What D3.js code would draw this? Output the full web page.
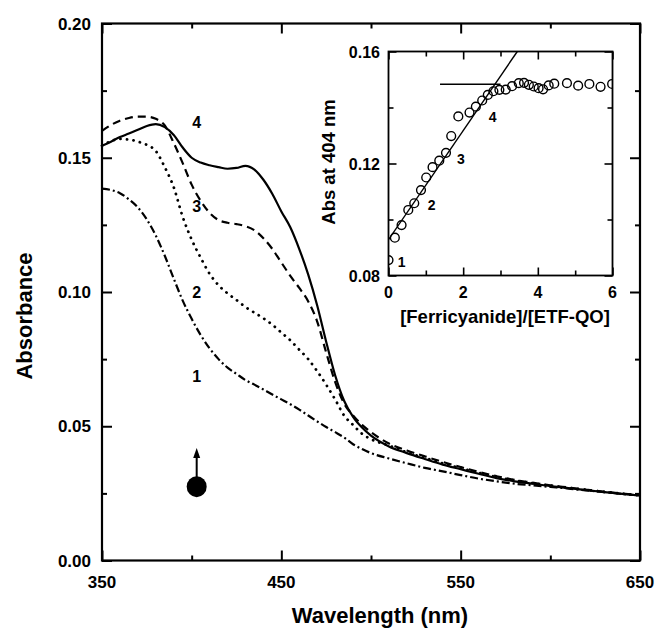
<!DOCTYPE html>
<html>
<head>
<meta charset="utf-8">
<script src="https://cdn.jsdelivr.net/npm/d3@7"></script>
<style>
  body { margin: 0; background: white; }
  svg text { font-family: "Liberation Sans", Arial, sans-serif; font-weight: bold; fill: black; }
</style>
</head>
<body>
<div id="canvas"></div>
<script>
var width = 655;
var height = 629;

// main spectra, absorbance vs wavelength
const wavelengths = [350,355,360,365,370,375,380,385,390,395,400,405,410,415,420,425,430,435,440,445,
                     450,455,460,465,470,475,480,485,490,495,500,510,520,530,540,550,560,570,580,590,
                     600,610,620,630,640,650];
const curve1 = [0.1385,0.1380,0.1368,0.1345,0.1315,0.1270,0.1210,0.1135,0.1050,0.0968,0.0900,0.0840,0.0790,0.0750,0.0718,0.0695,0.0672,0.0655,0.0637,0.0618,
                0.0600,0.0582,0.0562,0.0540,0.0518,0.0497,0.0478,0.0458,0.0433,0.0415,0.0400,0.0380,0.0362,0.0345,0.0332,0.0318,0.0305,0.0295,0.0286,0.0280,
                0.0274,0.0268,0.0261,0.0255,0.0248,0.0242];
const curve2 = [0.1545,0.1562,0.1570,0.1568,0.1560,0.1548,0.1525,0.1465,0.1390,0.1280,0.1195,0.1128,0.1068,0.1025,0.0995,0.0970,0.0944,0.0923,0.0902,0.0878,
                0.0849,0.0820,0.0785,0.0750,0.0705,0.0655,0.0600,0.0540,0.0505,0.0472,0.0452,0.0428,0.0403,0.0382,0.0362,0.0344,0.0327,0.0311,0.0298,0.0288,
                0.0279,0.0271,0.0263,0.0256,0.0249,0.0243];
const curve3 = [0.1600,0.1622,0.1638,0.1648,0.1653,0.1653,0.1645,0.1620,0.1555,0.1480,0.1400,0.1340,0.1295,0.1268,0.1258,0.1253,0.1245,0.1230,0.1200,0.1160,
                0.1110,0.1060,0.1015,0.0965,0.0890,0.0775,0.0665,0.0585,0.0540,0.0505,0.0478,0.0436,0.0410,0.0388,0.0367,0.0348,0.0330,0.0314,0.0300,0.0290,
                0.0280,0.0272,0.0264,0.0256,0.0249,0.0243];
const curve4 = [0.1545,0.1560,0.1577,0.1590,0.1604,0.1618,0.1625,0.1614,0.1585,0.1538,0.1500,0.1482,0.1472,0.1465,0.1459,0.1462,0.1470,0.1456,0.1418,0.1365,
                0.1300,0.1241,0.1160,0.1065,0.0950,0.0815,0.0690,0.0595,0.0535,0.0495,0.0465,0.0425,0.0400,0.0378,0.0357,0.0340,0.0323,0.0307,0.0295,0.0286,
                0.0277,0.0270,0.0262,0.0255,0.0248,0.0242];
const curveNames = ["1","2","3","4"];
const labelWavelength = 402.8;
const labelAbs = [0.0685,0.1000,0.1319,0.1632];

// arrow + dot at 404 nm
const arrowWavelength = 402.8;
const arrowFrom = 0.0315, arrowTo = 0.0419, dotAbs = 0.0275;

// main ticks
const xMajor = [350,450,550,650];
const xMinor = [400,500,600];
const yMajor = [0,0.05,0.10,0.15,0.20];
const yMinor = [0.025,0.075,0.125,0.175];

// inset titration
const ratios = [0.00,0.17,0.35,0.53,0.69,0.87,1.01,1.18,1.36,1.54,1.68,1.87,2.17,2.34,2.51,2.66,2.81,2.97,3.14,3.31,
                3.49,3.63,3.76,3.89,4.02,4.14,4.29,4.44,4.78,5.08,5.38,5.68,5.99];
const abs404 = [0.0855,0.0935,0.0980,0.1034,0.1058,0.1105,0.1150,0.1187,0.1210,0.1238,0.1298,0.1368,0.1382,0.1403,0.1425,0.1445,0.1458,0.1463,0.1464,0.1476,
                0.1487,0.1488,0.1481,0.1475,0.1469,0.1465,0.1479,0.1485,0.1487,0.1478,0.1484,0.1474,0.1484];
const fitX = [0, 3.45], fitY = [0.0928, 0.16];
const plateauX = [1.38, 3.0], plateauY = [0.1483, 0.1483];
const insetLabelX = [0.354,1.157,1.942,2.79];
const insetLabelY = [0.0849,0.1052,0.1215,0.1367];
const insetXMajor = [0,2,4,6], insetXMinor = [1,3,5];
const insetYMajor = [0.08,0.12,0.16], insetYMinor = [0.10,0.14];

var svg = d3.select("#canvas").append("svg")
    .attr("width", width)
    .attr("height", height)
    .style("background-color", "white");

const x = d3.scaleLinear().domain([350,650]).range([102,640]);
const y = d3.scaleLinear().domain([0,0.20]).range([560.5,23.5]);

// ticks on all four sides, pointing inward
function frameTicks(g, xs, ys, major, minor, xMaj, xMin, yMaj, yMin, lw) {
    const [x0,x1] = xs.range(), [y0,y1] = ys.range();
    const tick = (sel, vals, len, axisFn, pos) => {
        sel.append("g").attr("transform", pos)
            .call(axisFn.tickValues(vals).tickSize(-len).tickFormat(""))
            .call(a => a.select(".domain").remove())
            .selectAll("line").attr("stroke-width", lw);
    };
    tick(g, xMaj, major, d3.axisBottom(xs), `translate(0,${y0})`);
    tick(g, xMin, minor, d3.axisBottom(xs), `translate(0,${y0})`);
    tick(g, xMaj, major, d3.axisTop(xs), `translate(0,${y1})`);
    tick(g, xMin, minor, d3.axisTop(xs), `translate(0,${y1})`);
    tick(g, yMaj, major, d3.axisLeft(ys), `translate(${x0},0)`);
    tick(g, yMin, minor, d3.axisLeft(ys), `translate(${x0},0)`);
    tick(g, yMaj, major, d3.axisRight(ys), `translate(${x1},0)`);
    tick(g, yMin, minor, d3.axisRight(ys), `translate(${x1},0)`);
}

const main = svg.append("g");
frameTicks(main, x, y, 10, 5, xMajor, xMinor, yMajor, yMinor, 2);
main.append("rect")
    .attr("x", 102).attr("y", 23.5).attr("width", 538).attr("height", 537)
    .attr("fill", "none").attr("stroke", "black").attr("stroke-width", 2.2);

main.selectAll(".xl").data(xMajor).enter().append("text")
    .attr("x", d => x(d)).attr("y", 588)
    .attr("text-anchor", "middle").style("font-size", "17px")
    .text(d => d);
main.selectAll(".yl").data(yMajor).enter().append("text")
    .attr("x", 91).attr("y", d => y(d) + 6)
    .attr("text-anchor", "end").style("font-size", "17px")
    .text(d => d3.format(".2f")(d));

svg.append("text")
    .attr("x", 380).attr("y", 623)
    .attr("text-anchor", "middle").style("font-size", "22px")
    .text("Wavelength (nm)");
svg.append("text")
    .attr("transform", "translate(32,316) rotate(-90)")
    .attr("text-anchor", "middle").style("font-size", "22px")
    .text("Absorbance");

// spectra
const line = d3.line()
    .x((d, i) => x(wavelengths[i]))
    .y(d => y(d))
    .curve(d3.curveMonotoneX);

const styles = [
    { data: curve1, dash: "8 3 2 3", cap: "butt" },
    { data: curve2, dash: "0.1 6.5", cap: "round" },
    { data: curve3, dash: "8 5", cap: "butt" },
    { data: curve4, dash: null, cap: "butt" }
];
styles.forEach(s => {
    main.append("path")
        .datum(s.data)
        .attr("d", line)
        .attr("fill", "none")
        .attr("stroke", "black")
        .attr("stroke-width", s.cap === "round" ? 2.8 : 2.2)
        .attr("stroke-linecap", s.cap)
        .attr("stroke-dasharray", s.dash);
});

main.selectAll(".cl").data(curveNames).enter().append("text")
    .attr("x", x(labelWavelength)).attr("y", (d, i) => y(labelAbs[i]))
    .attr("dy", "0.36em")
    .attr("text-anchor", "middle").style("font-size", "16px")
    .text(d => d);

// arrow with dot
main.append("line")
    .attr("x1", x(arrowWavelength)).attr("x2", x(arrowWavelength))
    .attr("y1", y(dotAbs)).attr("y2", y(arrowTo) + 8)
    .attr("stroke", "black").attr("stroke-width", 2);
main.append("path")
    .attr("d", `M${x(arrowWavelength)},${y(arrowTo)} l-3.5,10 l7,0 z`)
    .attr("fill", "black");
main.append("ellipse")
    .attr("cx", x(arrowWavelength)).attr("cy", y(dotAbs))
    .attr("rx", 10).attr("ry", 10.5)
    .attr("fill", "black");

// inset
const ix = d3.scaleLinear().domain([0,6]).range([388.5,612.5]);
const iy = d3.scaleLinear().domain([0.08,0.16]).range([275.5,51.5]);
const inset = svg.append("g");

inset.append("rect")
    .attr("x", 388.5).attr("y", 51.5).attr("width", 224).attr("height", 224)
    .attr("fill", "white");
svg.append("clipPath").attr("id", "insetClip")
    .append("rect").attr("x", 388.5).attr("y", 51.5).attr("width", 224).attr("height", 224);

const plot = inset.append("g").attr("clip-path", "url(#insetClip)");
plot.append("line")
    .attr("x1", ix(fitX[0])).attr("y1", iy(fitY[0]))
    .attr("x2", ix(fitX[1])).attr("y2", iy(fitY[1]))
    .attr("stroke", "black").attr("stroke-width", 1.4);
plot.append("line")
    .attr("x1", ix(plateauX[0])).attr("y1", iy(plateauY[0]))
    .attr("x2", ix(plateauX[1])).attr("y2", iy(plateauY[1]))
    .attr("stroke", "black").attr("stroke-width", 1.4);
plot.selectAll("circle").data(ratios).enter().append("circle")
    .attr("cx", d => ix(d)).attr("cy", (d, i) => iy(abs404[i]))
    .attr("r", 4.4)
    .attr("fill", "none").attr("stroke", "black").attr("stroke-width", 1.4);

frameTicks(inset, ix, iy, 8, 5, insetXMajor, insetXMinor, insetYMajor, insetYMinor, 1.6);
inset.append("rect")
    .attr("x", 388.5).attr("y", 51.5).attr("width", 224).attr("height", 224)
    .attr("fill", "none").attr("stroke", "black").attr("stroke-width", 1.8);

inset.selectAll(".ixl").data(insetXMajor).enter().append("text")
    .attr("x", d => ix(d)).attr("y", 297.5)
    .attr("text-anchor", "middle").style("font-size", "16px")
    .text(d => d);
inset.selectAll(".iyl").data(insetYMajor).enter().append("text")
    .attr("x", 380).attr("y", d => iy(d) + 6)
    .attr("text-anchor", "end").style("font-size", "16px")
    .text(d => d3.format(".2f")(d));
inset.selectAll(".inl").data(curveNames).enter().append("text")
    .attr("x", (d, i) => ix(insetLabelX[i])).attr("y", (d, i) => iy(insetLabelY[i]))
    .attr("dy", "0.36em")
    .attr("text-anchor", "middle").style("font-size", "14px")
    .text(d => d);

svg.append("text")
    .attr("x", 505).attr("y", 323)
    .attr("text-anchor", "middle").style("font-size", "18.5px")
    .text("[Ferricyanide]/[ETF-QO]");
svg.append("text")
    .attr("transform", "translate(335,162) rotate(-90)")
    .attr("text-anchor", "middle").style("font-size", "18.5px")
    .text("Abs at 404 nm");
</script>
</body>
</html>
